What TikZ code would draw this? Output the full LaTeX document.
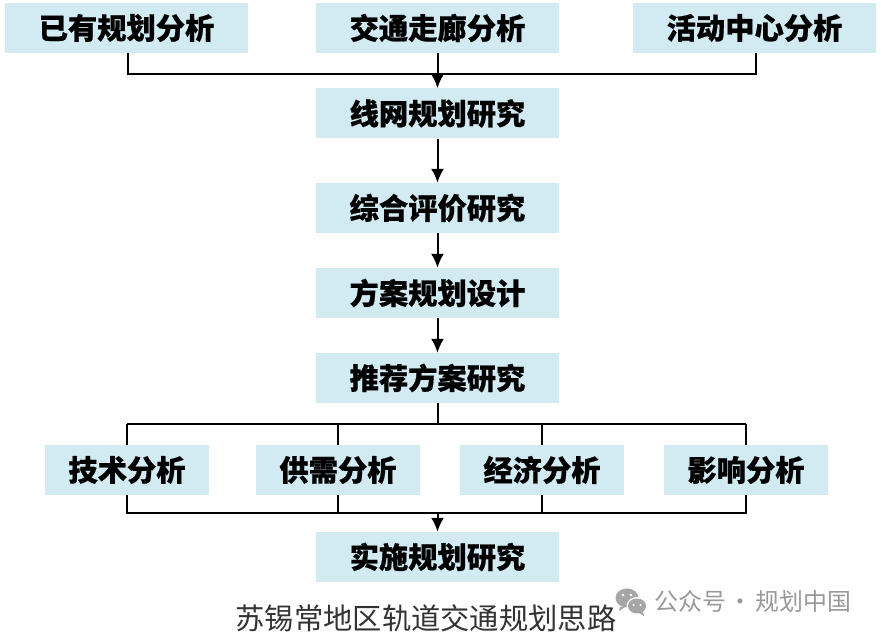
\documentclass[tikz,border=0pt]{standalone}
\usepackage{fontspec}
\setmainfont{Noto Sans CJK SC}[BoldFeatures={FakeBold=0.6}]
\usetikzlibrary{arrows.meta}
\definecolor{boxc}{HTML}{D2EAF1}
\tikzset{
  box/.style={fill=boxc,text=black,minimum height=50bp,inner sep=0pt,font=\fontsize{29.4}{29.4}\selectfont\bfseries},
  wide/.style={box,minimum width=243bp},
  small/.style={box,minimum width=164bp},
  conn/.style={draw=black,line width=2bp},
  arr/.style={conn,-{Latex[length=14bp,width=13bp]}}
}
\begin{document}
\begin{tikzpicture}[x=1bp,y=1bp]
\useasboundingbox (0,0) rectangle (881,636);
\fill[white] (0,0) rectangle (881,636);
\coordinate (j1) at (437.5,562);
\coordinate (t1) at (128,562);
\coordinate (t3) at (756,562);
\coordinate (j2) at (437.5,212);
\coordinate (j3) at (437.5,123);
\coordinate (f1t) at (127,212);
\coordinate (f2t) at (338,212);
\coordinate (f3t) at (542,212);
\coordinate (f4t) at (746,212);
\coordinate (f1b) at (127,123);
\coordinate (f2b) at (338,123);
\coordinate (f3b) at (542,123);
\coordinate (f4b) at (746,123);
\coordinate (a1d) at (128,600);
\coordinate (a3d) at (756,600);
\draw[conn] (a1d) -- (t1) -- (t3) -- (a3d);
\draw[conn] (f1t) -- (f4t);
\draw[conn] (f1t) -- (f1b) -- (f4b) -- (f4t);
\draw[conn] (f2t) -- (f2b);
\draw[conn] (f3t) -- (f3b);
\node[wide] (a1) at (126.5,608) {已有规划分析};
\node[wide] (a2) at (437.5,608) {交通走廊分析};
\node[wide] (a3) at (754.5,608) {活动中心分析};
\node[wide] (b) at (437.5,522.5) {线网规划研究};
\node[wide] (c) at (437.5,428) {综合评价研究};
\node[wide] (d) at (437.5,343) {方案规划设计};
\node[wide] (e) at (437.5,258) {推荐方案研究};
\node[small] (f1) at (127,166) {技术分析};
\node[small] (f2) at (338,166) {供需分析};
\node[small] (f3) at (542,166) {经济分析};
\node[small] (f4) at (746,166) {影响分析};
\node[wide] (g) at (437.5,79) {实施规划研究};
\node[font=\fontsize{29.4}{29.4}\selectfont, text=black!80] (cap) at (426,18) {苏锡常地区轨道交通规划思路};
\node[font=\fontsize{24}{24}\selectfont,text=black!40,anchor=west,inner sep=0pt] (wm) at (654,35) {公众号\hspace{3bp}·\hspace{3bp}规划中国};
\fill[black!35] (627,38) ellipse (11.5 and 9.5);
\fill[black!35] (620,29) -- (619,25) -- (625,29) -- cycle;
\fill[white] (637,30) ellipse (10.5 and 9);
\fill[black!35] (637,30) ellipse (9 and 7.5);
\fill[black!35] (643,24) -- (644,20) -- (639,23) -- cycle;
\fill[white] (623,41) circle (1.4) (631,41) circle (1.4) (633.5,31) circle (1.2) (640.5,31) circle (1.2);
\draw[arr] (a2) -- (b);
\draw[arr] (b) -- (c);
\draw[arr] (c) -- (d);
\draw[arr] (d) -- (e);
\draw[conn] (e) -- (j2);
\draw[arr] (j3) -- (g);
\end{tikzpicture}
\end{document}
